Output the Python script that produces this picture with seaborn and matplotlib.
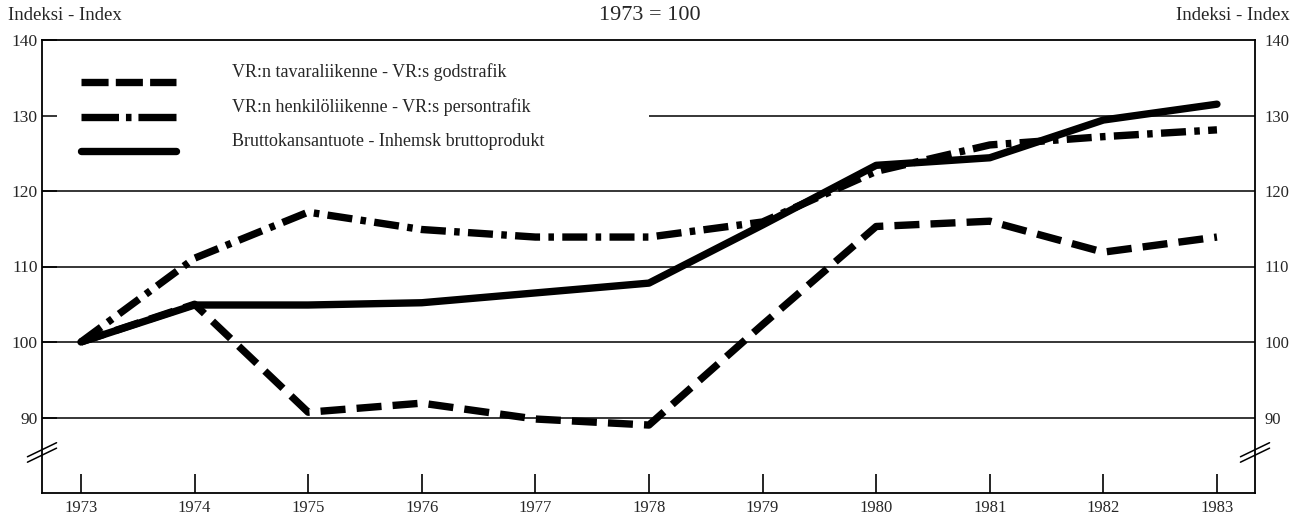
import matplotlib
matplotlib.use("Agg")
import matplotlib.pyplot as plt
import seaborn as sns
import pandas as pd
import numpy as np

# Index series, 1973 = 100
years = [1973, 1974, 1975, 1976, 1977, 1978, 1979, 1980, 1981, 1982, 1983]
freight = [100, 105, 90.7, 91.9, 89.8, 89.0, 102.3, 115.3, 116.0, 111.9, 113.9]
passenger = [100, 111.1, 117.2, 114.9, 113.9, 113.9, 115.9, 122.6, 126.1, 127.2, 128.1]
gdp = [100, 104.9, 104.9, 105.2, 106.5, 107.8, 115.5, 123.4, 124.4, 129.4, 131.5]

labels = [
    "VR:n tavaraliikenne - VR:s godstrafik",
    "VR:n henkilöliikenne - VR:s persontrafik",
    "Bruttokansantuote - Inhemsk bruttoprodukt",
]
y_ticks = [90, 100, 110, 120, 130, 140]

sns.set_theme(style="white")
plt.rcParams["font.family"] = ["Liberation Serif", "DejaVu Serif"]
plt.rcParams["lines.scale_dashes"] = False

fig = plt.figure(figsize=(12.94, 5.15), dpi=100)
ax = fig.add_axes([42 / 1294, 1 - 493 / 515, (1255 - 42) / 1294, (493 - 40) / 515])

styles = [(0, (18, 8)), (0, (18, 6, 4, 6)), "-"]
key_styles = [(0, (19.5, 5.2)), (0, (27, 5, 4, 5, 28, 10)), "-"]
for vals, lab, ls in zip([freight, passenger, gdp], labels, styles):
    df = pd.DataFrame({"year": years, "index": vals})
    sns.lineplot(data=df, x="year", y="index", ax=ax, color="black",
                 linewidth=5.3, linestyle=ls, label=lab,
                 solid_joinstyle="round", dash_capstyle="butt")

ax.set_xlim(1972.657, 1983.335)
ax.set_ylim(80, 140)

# horizontal rules; the 130 rule stops short of the legend block
for v in y_ticks[:4]:
    ax.hlines(v, 1972.657, 1983.335, color="black", linewidth=1.1, zorder=1)
ax.hlines(130, 1978.0, 1983.335, color="black", linewidth=1.1, zorder=1)

for s in ax.spines.values():
    s.set_color("black")
    s.set_linewidth(1.3)

ax.set_xticks(years)
ax.set_xticklabels([str(y) for y in years])
ax.tick_params(axis="x", direction="in", length=14, width=1.2, color="black",
               labelsize=12, pad=5, bottom=True)
ax.set_yticks(y_ticks)
ax.set_yticklabels([str(v) for v in y_ticks])
ax.tick_params(axis="y", direction="in", length=11, width=1.1, color="black",
               labelsize=12.5, pad=3, left=True)
ax.set_xlabel("")
ax.set_ylabel("")

ax2 = ax.twinx()
ax2.set_ylim(80, 140)
ax2.set_yticks(y_ticks)
ax2.set_yticklabels([str(v) for v in y_ticks])
ax2.tick_params(axis="y", length=0, labelsize=12, pad=7)
for s in ax2.spines.values():
    s.set_visible(False)

# axis break marks on both vertical axes
for xc in (0.0, 1.0):
    for dy in (0.0, 0.012):
        ax.plot([xc - 0.012, xc + 0.012], [0.068 + dy, 0.099 + dy],
                transform=ax.transAxes, color="black", linewidth=1.1,
                clip_on=False, zorder=5)

leg = ax.legend(loc="upper left", bbox_to_anchor=(0.026, 0.965), frameon=False,
                handlelength=5.3, handletextpad=3.1, labelspacing=0.94,
                fontsize=13, borderaxespad=0)
# legend keys sit a little below their text lines
for line, ks in zip(leg.legend_handles, key_styles):
    line.set_linewidth(5.3)
    line.set_linestyle(ks)
    line.set_ydata(np.asarray(line.get_ydata(), dtype=float) - 8.0)

fig.text(8 / 1294, 1 - 15 / 515, "Indeksi - Index", fontsize=13.5, va="center", ha="left")
fig.text(1290 / 1294, 1 - 15 / 515, "Indeksi - Index", fontsize=13.5, va="center", ha="right")
fig.text(650 / 1294, 1 - 15 / 515, "1973 = 100", fontsize=16, va="center", ha="center")

fig.savefig("out.png", dpi=100)
